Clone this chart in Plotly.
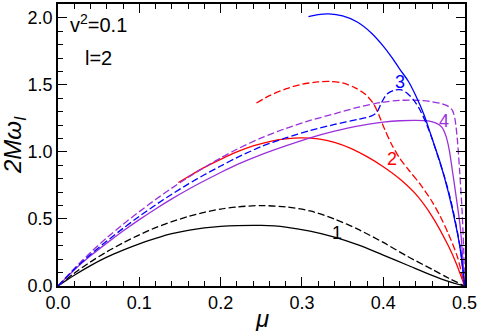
import plotly.graph_objects as go

# curve 1 (black)
mu_1 = [0, 0.02, 0.04, 0.06, 0.08, 0.10, 0.12, 0.14, 0.16, 0.18, 0.20, 0.22, 0.25,
        0.28, 0.31, 0.34, 0.37, 0.40, 0.43, 0.46, 0.48, 0.50]
w1_solid = [0, 0.08, 0.152, 0.215, 0.268, 0.315, 0.355, 0.39, 0.415, 0.433, 0.445, 0.451,
            0.452, 0.44, 0.41, 0.365, 0.305, 0.23, 0.155, 0.08, 0.035, 0]
w1_dash = [0, 0.095, 0.18, 0.255, 0.322, 0.382, 0.435, 0.48, 0.518, 0.55, 0.574, 0.59,
           0.60, 0.59, 0.56, 0.50, 0.42, 0.325, 0.22, 0.125, 0.06, 0]

# curve 2 (red)
mu_2s = [0.148, 0.16, 0.18, 0.20, 0.22, 0.24, 0.26, 0.28, 0.30, 0.32, 0.34, 0.36, 0.38,
         0.40, 0.42, 0.44, 0.46, 0.48, 0.49, 0.50]
w2_solid = [0.772, 0.815, 0.885, 0.945, 1.0, 1.045, 1.078, 1.098, 1.105, 1.097, 1.072,
            1.027, 0.965, 0.89, 0.80, 0.685, 0.52, 0.30, 0.165, 0]
mu_2d = [0.244, 0.26, 0.28, 0.30, 0.32, 0.335, 0.35, 0.365, 0.378, 0.388, 0.395, 0.402,
         0.41, 0.42, 0.432, 0.446, 0.46, 0.47, 0.48, 0.491, 0.50]
w2_dash = [1.365, 1.42, 1.47, 1.505, 1.523, 1.526, 1.515, 1.48, 1.43, 1.36, 1.27, 1.165,
           1.06, 0.955, 0.86, 0.755, 0.63, 0.52, 0.39, 0.22, 0]

# curve 3 (blue)
mu_3s = [0.308, 0.32, 0.333, 0.35, 0.368, 0.385, 0.40, 0.41, 0.42, 0.431, 0.44, 0.45,
         0.46, 0.47, 0.48, 0.49, 0.495, 0.50]
w3_solid = [2.01, 2.025, 2.03, 2.015, 1.97, 1.89, 1.79, 1.71, 1.62, 1.526, 1.42, 1.28,
            1.10, 0.92, 0.70, 0.43, 0.26, 0]
mu_3d = [0, 0.02, 0.04, 0.06, 0.08, 0.10, 0.12, 0.14, 0.16, 0.18, 0.20, 0.22, 0.25, 0.28,
         0.31, 0.34, 0.37, 0.385, 0.392, 0.398, 0.405, 0.413, 0.421, 0.429, 0.437, 0.445,
         0.452, 0.46, 0.467, 0.475, 0.483, 0.49, 0.495, 0.50]
w3_dash = [0, 0.125, 0.235, 0.335, 0.43, 0.52, 0.605, 0.685, 0.76, 0.83, 0.895, 0.958,
           1.04, 1.105, 1.16, 1.205, 1.245, 1.267, 1.295, 1.37, 1.435, 1.46, 1.465, 1.44,
           1.39, 1.315, 1.225, 1.10, 0.97, 0.82, 0.64, 0.44, 0.27, 0]

# curve 4 (purple)
mu_4s = [0, 0.02, 0.04, 0.06, 0.08, 0.10, 0.12, 0.14, 0.16, 0.18, 0.20, 0.22, 0.25, 0.28,
         0.31, 0.34, 0.37, 0.40, 0.42, 0.44, 0.455, 0.465, 0.472, 0.477, 0.481, 0.485,
         0.49, 0.495, 0.50]
w4_solid = [0, 0.12, 0.225, 0.32, 0.41, 0.495, 0.575, 0.65, 0.72, 0.785, 0.847, 0.905,
            0.98, 1.045, 1.105, 1.155, 1.195, 1.222, 1.233, 1.236, 1.232, 1.215, 1.185,
            1.12, 1.02, 0.86, 0.65, 0.42, 0]
mu_4d = [0, 0.02, 0.04, 0.06, 0.08, 0.10, 0.12, 0.14, 0.16, 0.18, 0.20, 0.22, 0.25, 0.28,
         0.31, 0.34, 0.37, 0.40, 0.42, 0.44, 0.46, 0.472, 0.48, 0.485, 0.488, 0.491,
         0.494, 0.497, 0.499, 0.50]
w4_dash = [0, 0.13, 0.25, 0.36, 0.46, 0.555, 0.645, 0.73, 0.81, 0.885, 0.955, 1.02,
           1.105, 1.175, 1.235, 1.285, 1.335, 1.372, 1.385, 1.386, 1.375, 1.36, 1.34, 1.31,
           1.25, 1.10, 0.85, 0.55, 0.25, 0]

BLACK, RED, BLUE, PURPLE = "#000000", "#ff0000", "#0000ff", "#9a30dc"
FONT = "Liberation Sans, Arial, sans-serif"

fig = go.Figure()


def add_line(x, y, color, dashed):
    fig.add_trace(go.Scatter(
        x=x, y=y, mode="lines", showlegend=False, hoverinfo="skip",
        line=dict(color=color, width=1.3, shape="spline", smoothing=0.8,
                  dash="7px,3px" if dashed else "solid"),
    ))


add_line(mu_1, w1_solid, BLACK, False)
add_line(mu_1, w1_dash, BLACK, True)
add_line(mu_2s, w2_solid, RED, False)
add_line(mu_2d, w2_dash, RED, True)
add_line(mu_4s, w4_solid, PURPLE, False)
add_line(mu_4d, w4_dash, PURPLE, True)
add_line(mu_3d, w3_dash, BLUE, True)
add_line(mu_3s, w3_solid, BLUE, False)

labels = [("1", 0.3436, 0.396, BLACK), ("2", 0.411, 0.944, RED),
          ("3", 0.421, 1.52, BLUE), ("4", 0.475, 1.23, PURPLE)]
for text, x, y, color in labels:
    fig.add_annotation(x=x, y=y, text=text, showarrow=False,
                       font=dict(size=18, color=color, family=FONT))

fig.add_annotation(x=0.012, y=1.96, text="v<sup>2</sup>=0.1", showarrow=False,
                   xanchor="left", font=dict(size=20, color=BLACK, family=FONT))
fig.add_annotation(x=0.031, y=1.70, text="l=2", showarrow=False,
                   xanchor="left", font=dict(size=20, color=BLACK, family=FONT))

# axis titles
fig.add_annotation(x=0.5, y=0, xref="paper", yref="paper", yshift=-32,
                   text="<i>μ</i>", showarrow=False, yanchor="middle",
                   font=dict(size=24, color=BLACK, family=FONT))
fig.add_annotation(x=0, y=0.5, xref="paper", yref="paper", xshift=-44,
                   text="<i>2Mω<sub>I</sub></i>", showarrow=False, textangle=-90,
                   xanchor="center", yanchor="middle",
                   font=dict(size=24, color=BLACK, family=FONT))

axis_common = dict(
    showgrid=False, zeroline=False, showline=True, linecolor=BLACK, linewidth=1.5,
    mirror="allticks", ticks="inside", ticklen=9, tickwidth=1, tickcolor=BLACK,
    tickfont=dict(size=18, color=BLACK, family=FONT), tickformat=".1f",
    ticklabeloverflow="allow",
)
fig.update_xaxes(range=[0, 0.5005], dtick=0.1, tick0=0,
                 minor=dict(dtick=0.02, ticks="inside", ticklen=5, tickcolor=BLACK),
                 **axis_common)
fig.update_yaxes(range=[0, 2.104], dtick=0.5, tick0=0,
                 minor=dict(dtick=0.1, ticks="inside", ticklen=5, tickcolor=BLACK),
                 **axis_common)

fig.update_layout(
    width=480, height=331,
    margin=dict(l=58, r=15, t=2, b=45),
    plot_bgcolor="white", paper_bgcolor="white",
    font=dict(family=FONT, color=BLACK),
)

# drop the browser's default page margin so the figure sits at the top-left corner
fig.write_html("out.html", config={"displayModeBar": False},
               post_script="document.body.style.margin = '0';")
